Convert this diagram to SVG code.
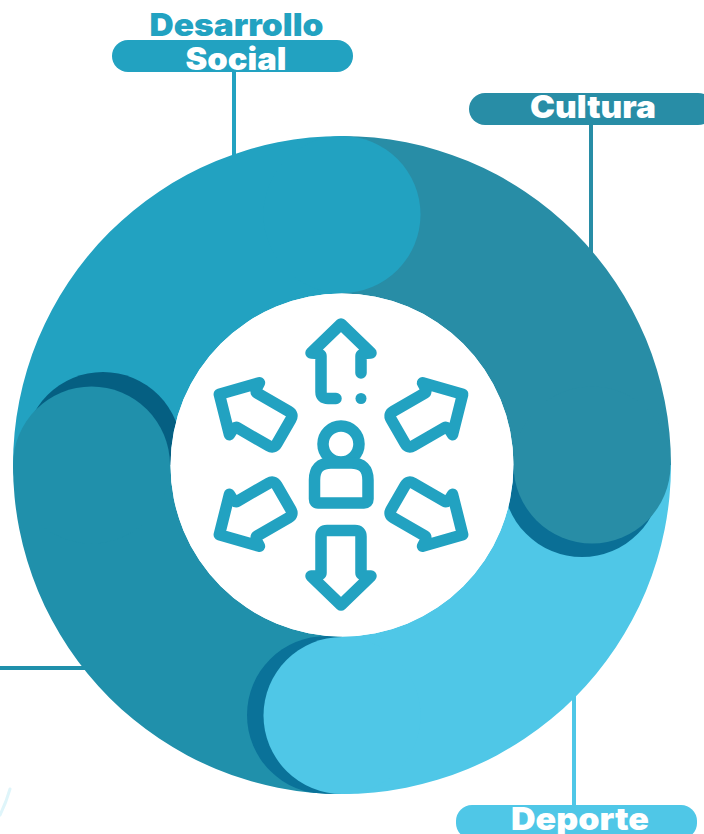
<svg xmlns="http://www.w3.org/2000/svg" width="704" height="834" viewBox="0 0 704 834">
<style>
text{font-family:"Inter","Liberation Sans",sans-serif;font-weight:900;font-size:31px;text-anchor:middle;fill:#fff}
.ic{fill:none;stroke:#22A2C1;stroke-width:11.500;stroke-linecap:round;stroke-linejoin:round}
.c{fill:none;stroke-width:4}
</style>
<defs>
<clipPath id="ring"><path clip-rule="evenodd" d="M13 465a329 329 0 1 0 658 0a329 329 0 1 0-658 0ZM170.500 465a171.500 171.500 0 1 0 343 0a171.500 171.500 0 1 0-343 0Z"/></clipPath>
<clipPath id="qtl"><rect x="0" y="100" width="342" height="365"/></clipPath>
<clipPath id="qbr"><rect x="342" y="465" width="362" height="369"/></clipPath>
<clipPath id="qbl"><rect x="0" y="465" width="342" height="369"/></clipPath>
<path id="arrow" class="ic" d="M327 398.500H355Q361 398.500 361 392.500V356Q361 353 371 353L341 324L311 353Q321 353 321 356V392.500Q321 398.500 327 398.500Z"/>
</defs>
<rect width="704" height="834" fill="#fff"/>
<g id="connectors">
<path class="c" stroke="#22A2C1" d="M234 72V160"/>
<path class="c" stroke="#288DA6" d="M591 125V255"/>
<path class="c" stroke="#4FC7E7" d="M574 690V805"/>
<path class="c" stroke="#2090AB" d="M0 668H90"/>
<path d="M10 789Q6 803 0 815" fill="none" stroke="#DFF5FA" stroke-width="3" stroke-linecap="round"/>
</g>
<g id="ring-base">
<path fill="#22A2C1" d="M13 465A329 329 0 0 1 342 136V293.500A171.500 171.500 0 0 0 170.500 465Z"/>
<path fill="#288DA6" d="M342 136A329 329 0 0 1 671 465H513.500A171.500 171.500 0 0 0 342 293.500Z"/>
<path fill="#4FC7E7" d="M671 465A329 329 0 0 1 342 794V636.500A171.500 171.500 0 0 0 513.500 465Z"/>
<path fill="#2090AB" d="M342 794A329 329 0 0 1 13 465H170.500A171.500 171.500 0 0 0 342 636.500Z"/>
</g>
<g id="shadows" clip-path="url(#ring)">
<g clip-path="url(#qtl)"><circle cx="103" cy="450.500" r="78.500" fill="#055F82"/></g>
<g clip-path="url(#qbr)"><circle cx="582" cy="478" r="79" fill="#0A6F96"/></g>
<g clip-path="url(#qbl)"><circle cx="326" cy="715" r="79" fill="#0A7299"/></g>
</g>
<g id="segment-desarrollo"><circle cx="342" cy="214.500" r="78.500" fill="#22A2C1"/></g>
<g id="segment-cultura"><circle cx="592" cy="465" r="78.500" fill="#288DA6"/></g>
<g id="segment-deporte"><circle cx="342" cy="715.500" r="78.500" fill="#4FC7E7"/></g>
<g id="segment-left"><circle cx="91.500" cy="465" r="78.500" fill="#2090AB"/></g>
<g id="center">
<circle cx="342" cy="465" r="171.500" fill="#fff"/>
<path class="ic" d="M336 398.500H328Q321 398.500 321 392V356Q321 353 311 353L341 324L371 353Q361 353 361 356V373"/>
<circle cx="361" cy="398.500" r="5.500" fill="#22A2C1"/>
<use href="#arrow" transform="rotate(60 341 464.500)"/>
<use href="#arrow" transform="rotate(120 341 464.500)"/>
<use href="#arrow" transform="rotate(180 341 464.500)"/>
<use href="#arrow" transform="rotate(240 341 464.500)"/>
<use href="#arrow" transform="rotate(300 341 464.500)"/>
<circle class="ic" cx="341" cy="444" r="18"/>
<path class="ic" d="M331 463H351Q368 463 368 480V499Q368 503 364 503H318Q314.500 503 314.500 499V480Q314.500 463 331 463Z"/>
</g>
<g id="label-desarrollo">
<text x="236.500" y="36" style="fill:#22A2C1" textLength="174" lengthAdjust="spacingAndGlyphs">Desarrollo</text>
<rect x="112" y="40" width="241" height="32" rx="16" fill="#22A2C1"/>
<text x="236" y="70" textLength="101" lengthAdjust="spacingAndGlyphs">Social</text>
</g>
<g id="label-cultura">
<rect x="469" y="93" width="245" height="32" rx="16" fill="#288DA6"/>
<text x="593" y="118" textLength="126" lengthAdjust="spacingAndGlyphs">Cultura</text>
</g>
<g id="label-deporte">
<rect x="456" y="805" width="241" height="34" rx="16" fill="#4FC7E7"/>
<text x="580" y="830" textLength="138" lengthAdjust="spacingAndGlyphs">Deporte</text>
</g>
</svg>
